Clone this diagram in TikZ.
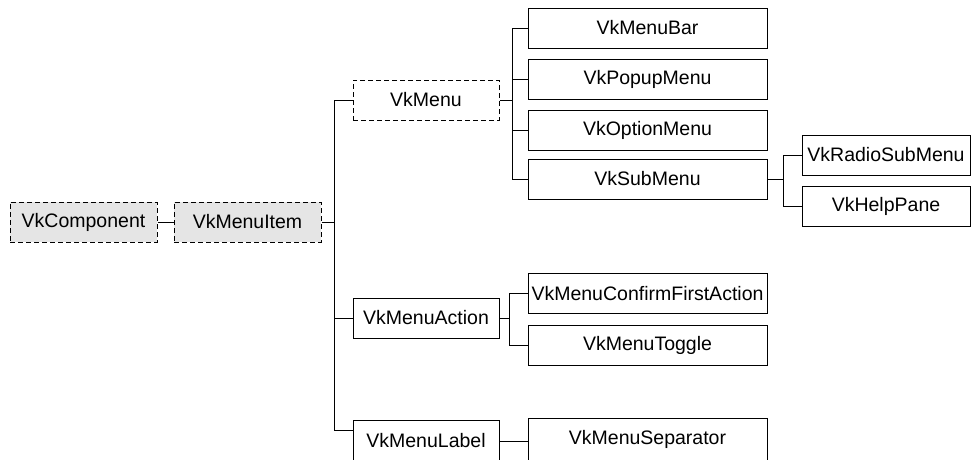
\documentclass[tikz,border=0pt]{standalone}
\usepackage{fontspec}
\setmainfont{Liberation Sans}
\begin{document}
\begin{tikzpicture}[x=1pt,y=-1pt,
  box/.style={draw=black, line width=1pt, fill=white, minimum height=40pt, inner sep=0pt, font=\fontsize{19.5pt}{22pt}\selectfont},
  narrow/.style={box, minimum width=146pt},
  wide/.style={box, minimum width=239pt},
  mid/.style={box, minimum width=168pt},
  abstract/.style={dash pattern=on 5pt off 3pt},
  grayfill/.style={fill=black!10},
  link/.style={draw=black, line width=1pt}]
\path[use as bounding box] (0,0) rectangle (976,459);
\clip (0,0) rectangle (976,459);
% nodes
\node[narrow, abstract, grayfill, minimum width=147pt] (comp) at (83.5,222) {VkComponent};
\node[narrow, abstract, grayfill, minimum width=147pt] (item) at (247.5,222) {VkMenuItem};
\node[narrow, abstract] (menu) at (426,100) {VkMenu};
\node[narrow] (action) at (426,318) {VkMenuAction};
\node[narrow, minimum height=42pt] (label) at (426,441) {VkMenuLabel};
\node[wide] (bar) at (647.5,28) {VkMenuBar};
\node[wide] (popup) at (647.5,79) {VkPopupMenu};
\node[wide] (option) at (647.5,130) {VkOptionMenu};
\node[wide] (sub) at (647.5,179) {VkSubMenu};
\node[mid] (radio) at (886,155) {VkRadioSubMenu};
\node[mid] (help) at (886,206.5) {VkHelpPane};
\node[wide] (confirm) at (647.5,293.5) {VkMenuConfirmFirstAction};
\node[wide] (toggle) at (647.5,345) {VkMenuToggle};
\node[wide, minimum height=42pt] (sep) at (647.5,439) {VkMenuSeparator};
% branch points
\coordinate (t) at (334,222);
\coordinate (tl) at (334,430);
\coordinate (bm) at (512,100);
\coordinate (bs) at (783,179);
\coordinate (ba) at (509,318);
% connectors
\draw[link] (comp.east) -- (item.west);
\draw[link] (item.east) -- (t);
\draw[link] (t) |- (menu.west);
\draw[link] (t) |- (action.west);
\draw[link] (t) -- (tl) -- (tl -| label.west);
\draw[link] (menu.east) -- (bm);
\draw[link] (bm) |- (bar.west);
\draw[link] (bm) |- (popup.west);
\draw[link] (bm) |- (option.west);
\draw[link] (bm) |- (sub.west);
\draw[link] (sub.east) -- (bs);
\draw[link] (bs) |- (radio.west);
\draw[link] (bs) |- (help.west);
\draw[link] (action.east) -- (ba);
\draw[link] (ba) |- (confirm.west);
\draw[link] (ba) |- (toggle.west);
\draw[link] (label.east) -- (label.east -| sep.west);
\end{tikzpicture}
\end{document}
